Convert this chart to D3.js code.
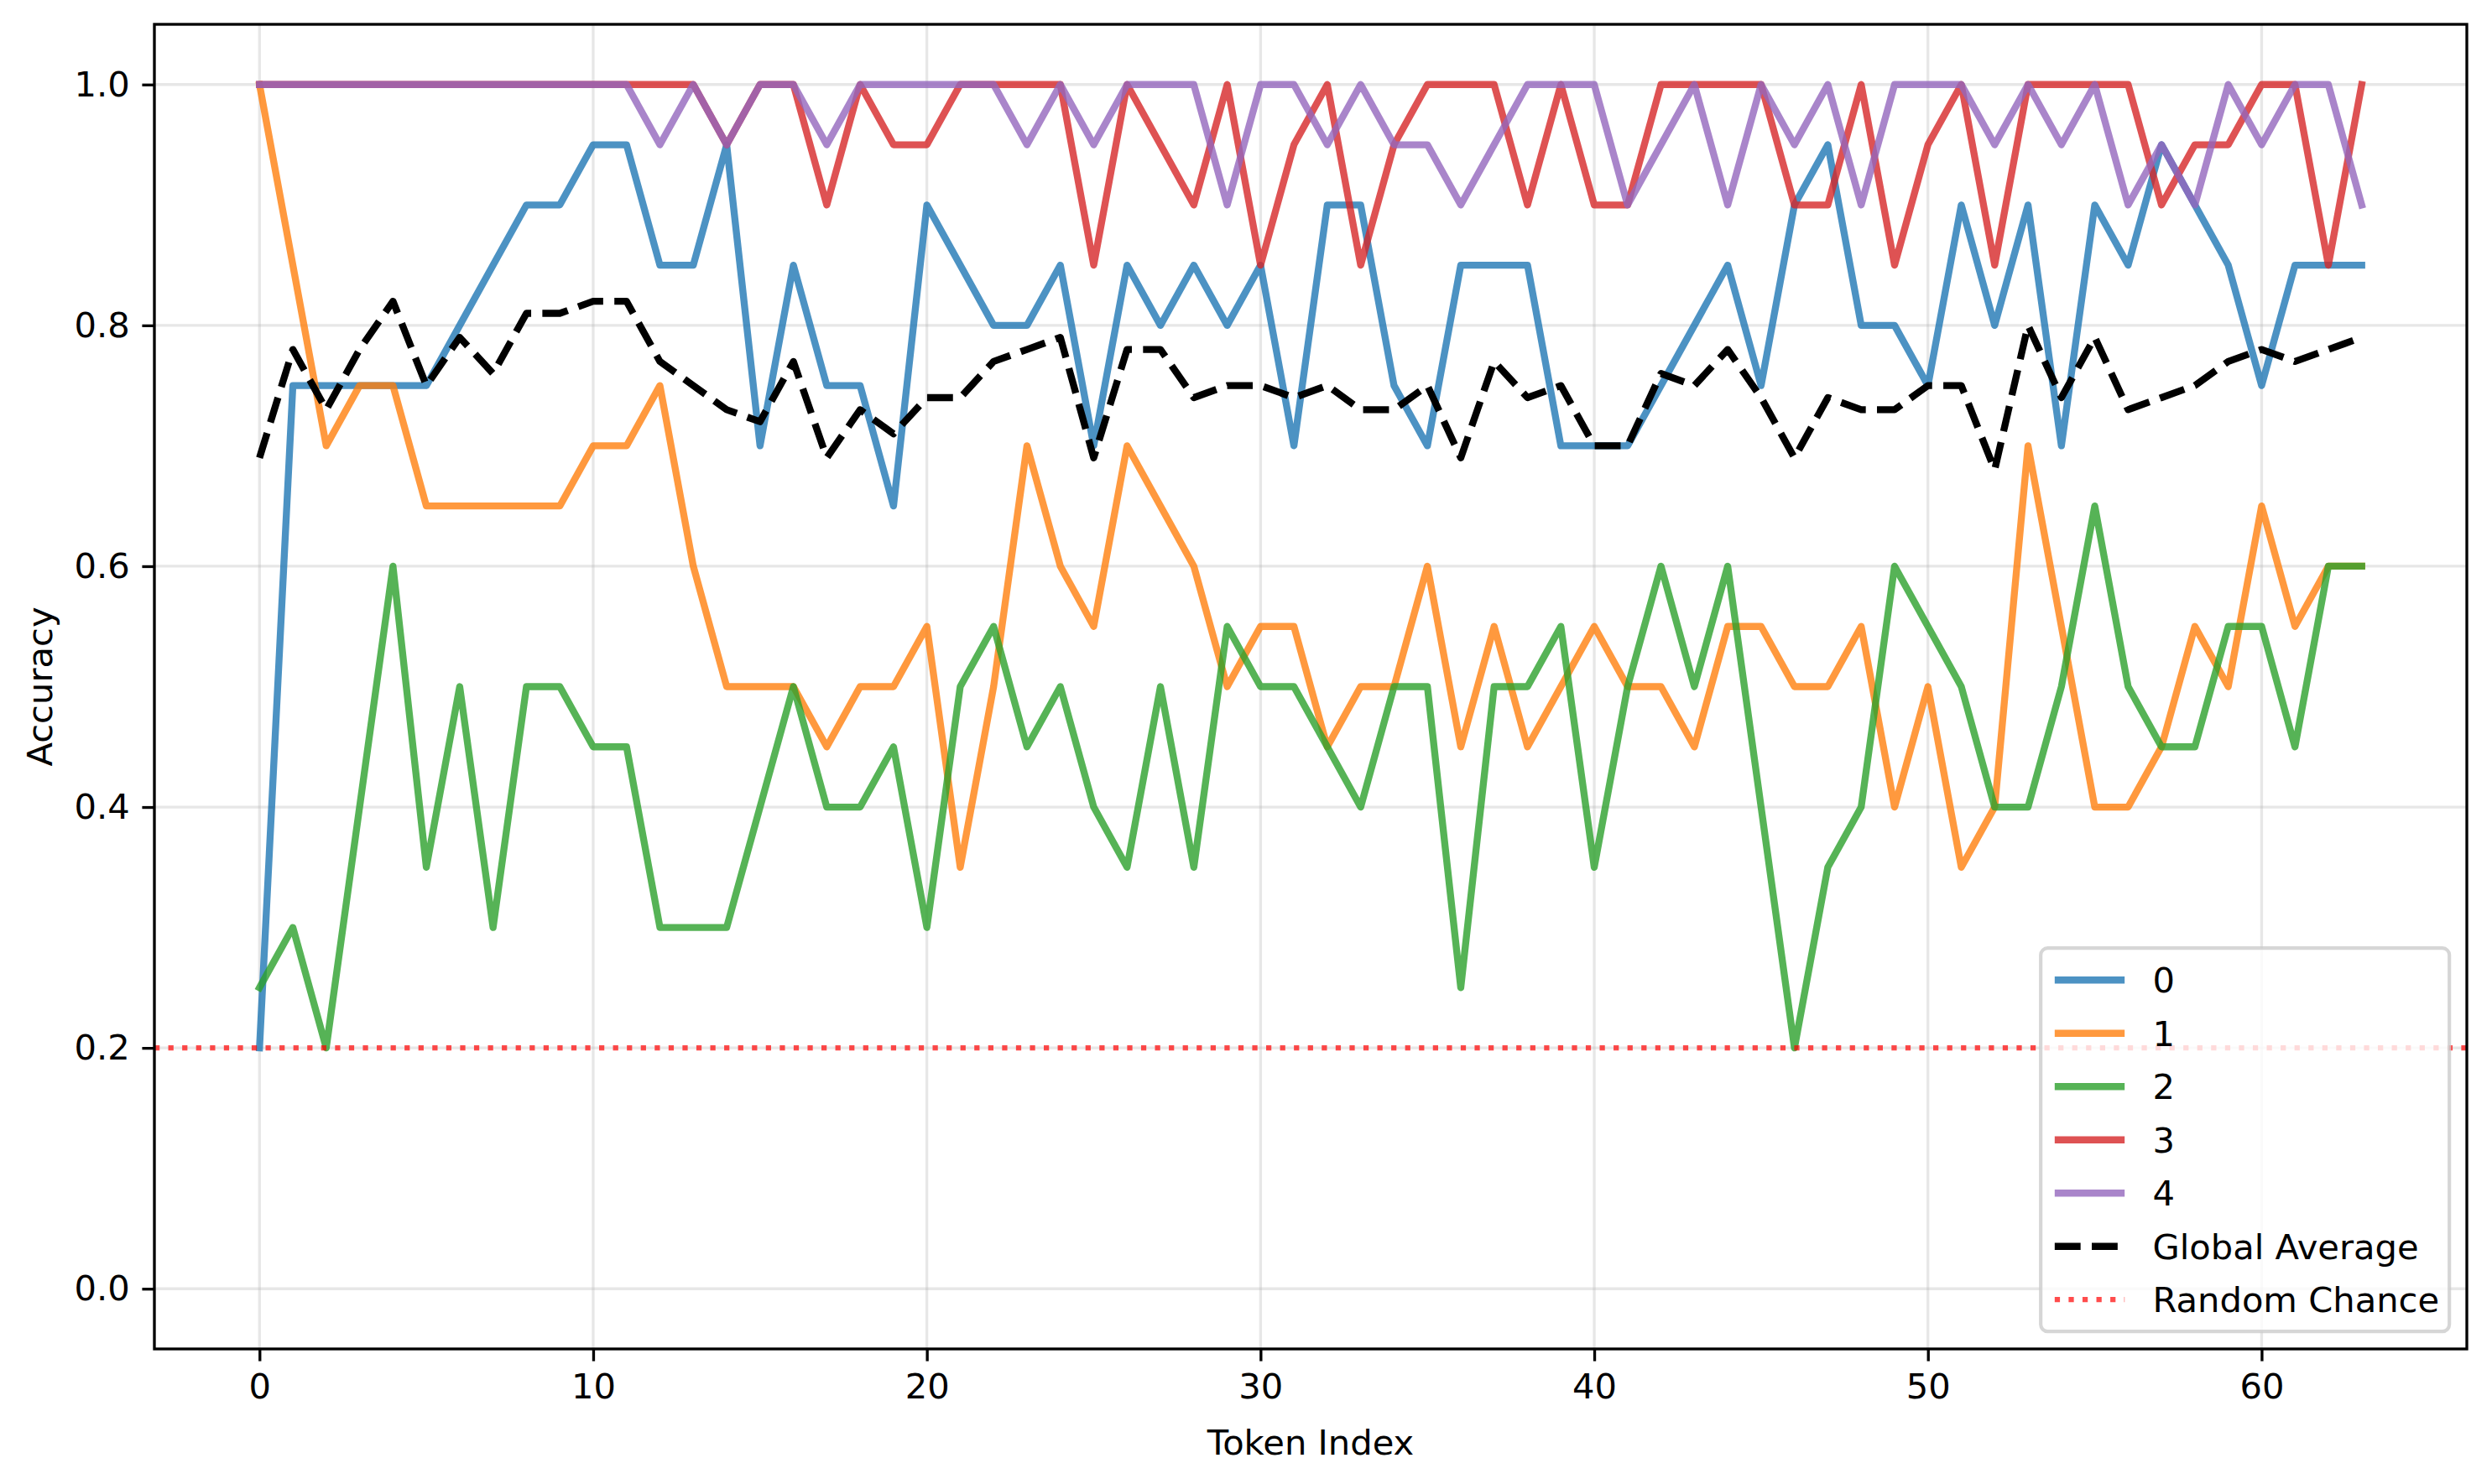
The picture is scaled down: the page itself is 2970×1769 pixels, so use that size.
<!DOCTYPE html>
<html>
<head>
<meta charset="utf-8">
<script src="https://cdn.jsdelivr.net/npm/d3@7"></script>
<style>
  body { margin: 0; background: #fff; }
  svg { display: block; font-family: "DejaVu Sans", sans-serif; }
</style>
</head>
<body>
<svg id="chart" width="2970" height="1769"></svg>
<script>
// per-token accuracy of each class
const tokenIndex = d3.range(64);
const seriesNames = ["0", "1", "2", "3", "4"];
const seriesColors = ["#1f77b4", "#ff7f0e", "#2ca02c", "#d62728", "#9467bd"];

const acc0 = [0.2,0.75,0.75,0.75,0.75,0.75,0.8,0.85,0.9,0.9,
  0.95,0.95,0.85,0.85,0.95,0.7,0.85,0.75,0.75,0.65,
  0.9,0.85,0.8,0.8,0.85,0.7,0.85,0.8,0.85,0.8,
  0.85,0.7,0.9,0.9,0.75,0.7,0.85,0.85,0.85,0.7,
  0.7,0.7,0.75,0.8,0.85,0.75,0.9,0.95,0.8,0.8,
  0.75,0.9,0.8,0.9,0.7,0.9,0.85,0.95,0.9,0.85,
  0.75,0.85,0.85,0.85];
const acc1 = [1.0,0.85,0.7,0.75,0.75,0.65,0.65,0.65,0.65,0.65,
  0.7,0.7,0.75,0.6,0.5,0.5,0.5,0.45,0.5,0.5,
  0.55,0.35,0.5,0.7,0.6,0.55,0.7,0.65,0.6,0.5,
  0.55,0.55,0.45,0.5,0.5,0.6,0.45,0.55,0.45,0.5,
  0.55,0.5,0.5,0.45,0.55,0.55,0.5,0.5,0.55,0.4,
  0.5,0.35,0.4,0.7,0.55,0.4,0.4,0.45,0.55,0.5,
  0.65,0.55,0.6,0.6];
const acc2 = [0.25,0.3,0.2,0.4,0.6,0.35,0.5,0.3,0.5,0.5,
  0.45,0.45,0.3,0.3,0.3,0.4,0.5,0.4,0.4,0.45,
  0.3,0.5,0.55,0.45,0.5,0.4,0.35,0.5,0.35,0.55,
  0.5,0.5,0.45,0.4,0.5,0.5,0.25,0.5,0.5,0.55,
  0.35,0.5,0.6,0.5,0.6,0.4,0.2,0.35,0.4,0.6,
  0.55,0.5,0.4,0.4,0.5,0.65,0.5,0.45,0.45,0.55,
  0.55,0.45,0.6,0.6];
const acc3 = [1,1,1,1,1,1,1,1,1,1,
  1,1,1,1,0.95,1,1,0.9,1,0.95,
  0.95,1,1,1,1,0.85,1,0.95,0.9,1,
  0.85,0.95,1,0.85,0.95,1,1,1,0.9,1,
  0.9,0.9,1,1,1,1,0.9,0.9,1,0.85,
  0.95,1,0.85,1,1,1,1,0.9,0.95,0.95,
  1,1,0.85,1];
const acc4 = [1,1,1,1,1,1,1,1,1,1,
  1,1,0.95,1,0.95,1,1,0.95,1,1,
  1,1,1,0.95,1,0.95,1,1,1,0.9,
  1,1,0.95,1,0.95,0.95,0.9,0.95,1,1,
  1,0.9,0.95,1,0.9,1,0.95,1,0.9,1,
  1,1,0.95,1,0.95,1,0.9,0.95,0.9,1,
  0.95,1,1,0.9];
const globalAvg = [0.69,0.78,0.73,0.78,0.82,0.75,0.79,0.76,0.81,0.81,
  0.82,0.82,0.77,0.75,0.73,0.72,0.77,0.69,0.73,0.71,
  0.74,0.74,0.77,0.78,0.79,0.69,0.78,0.78,0.74,0.75,
  0.75,0.74,0.75,0.73,0.73,0.75,0.69,0.77,0.74,0.75,
  0.70,0.70,0.76,0.75,0.78,0.74,0.69,0.74,0.73,0.73,
  0.75,0.75,0.68,0.80,0.74,0.79,0.73,0.74,0.75,0.77,
  0.78,0.77,0.78,0.79];
const randomChance = 0.2;

const xTicks = [0, 10, 20, 30, 40, 50, 60];
const yTicks = [0, 0.2, 0.4, 0.6, 0.8, 1.0];

const series = [acc0, acc1, acc2, acc3, acc4];

// matplotlib at 300 dpi: 1pt = 4.1667px
const pt = 300 / 72;
const fs = 10 * pt;
const plotL = 184, plotR = 2940, plotT = 29, plotB = 1608;

const svg = d3.select("#chart");
svg.append("rect").attr("width", 2970).attr("height", 1769).attr("fill", "#fff");

const x = d3.scaleLinear().domain([-3.15, 66.15]).range([plotL, plotR]);
const y = d3.scaleLinear().domain([-0.05, 1.05]).range([plotB, plotT]);

svg.append("defs").append("clipPath").attr("id", "plotclip")
  .append("rect").attr("x", plotL).attr("y", plotT)
  .attr("width", plotR - plotL).attr("height", plotB - plotT);

// grid
const grid = svg.append("g").attr("stroke", "#b0b0b0").attr("stroke-opacity", 0.3)
  .attr("stroke-width", 0.8 * pt);
grid.selectAll(".gx").data(xTicks).join("line").attr("class", "gx")
  .attr("x1", d => x(d)).attr("x2", d => x(d)).attr("y1", plotT).attr("y2", plotB);
grid.selectAll(".gy").data(yTicks).join("line").attr("class", "gy")
  .attr("y1", d => y(d)).attr("y2", d => y(d)).attr("x1", plotL).attr("x2", plotR);

const line = d3.line().x((d, i) => x(tokenIndex[i])).y(d => y(d));
const plot = svg.append("g").attr("clip-path", "url(#plotclip)");

series.forEach((vals, k) => {
  plot.append("path").datum(vals)
    .attr("d", line)
    .attr("fill", "none")
    .attr("stroke", seriesColors[k])
    .attr("stroke-opacity", 0.8)
    .attr("stroke-width", 2 * pt)
    .attr("stroke-linejoin", "round")
    .attr("stroke-linecap", "square");
});

const avgDash = `${3.7 * 2 * pt},${1.6 * 2 * pt}`;
const dotDash = `${1.5 * pt},${1.65 * 1.5 * pt}`;

plot.append("path").datum(globalAvg)
  .attr("d", line)
  .attr("fill", "none")
  .attr("stroke", "#000")
  .attr("stroke-width", 2 * pt)
  .attr("stroke-dasharray", avgDash)
  .attr("stroke-linejoin", "round");

plot.append("line")
  .attr("x1", plotL).attr("x2", plotR)
  .attr("y1", y(randomChance)).attr("y2", y(randomChance))
  .attr("stroke", "red").attr("stroke-opacity", 0.7)
  .attr("stroke-width", 1.5 * pt)
  .attr("stroke-dasharray", dotDash);

// axes
const tickLen = 3.5 * pt, tickPad = 3.5 * pt;
const xAxis = svg.append("g").attr("transform", `translate(0,${plotB})`)
  .call(d3.axisBottom(x).tickValues(xTicks).tickFormat(d3.format("d"))
    .tickSize(tickLen).tickPadding(tickPad));
const yAxis = svg.append("g").attr("transform", `translate(${plotL},0)`)
  .call(d3.axisLeft(y).tickValues(yTicks).tickFormat(d3.format(".1f"))
    .tickSize(tickLen).tickPadding(tickPad));
[xAxis, yAxis].forEach(a => {
  a.select(".domain").remove();
  a.selectAll(".tick line").attr("stroke", "#000").attr("stroke-width", 0.8 * pt);
  a.selectAll(".tick text").attr("fill", "#000")
    .style("font-size", fs + "px").style("font-family", "DejaVu Sans");
});

// spines
svg.append("rect").attr("x", plotL).attr("y", plotT)
  .attr("width", plotR - plotL).attr("height", plotB - plotT)
  .attr("fill", "none").attr("stroke", "#000").attr("stroke-width", 0.8 * pt);

svg.append("text").attr("x", (plotL + plotR) / 2).attr("y", 1734)
  .attr("text-anchor", "middle").style("font-size", fs + "px").text("Token Index");
svg.append("text")
  .attr("transform", `translate(62,${(plotT + plotB) / 2}) rotate(-90)`)
  .attr("text-anchor", "middle").style("font-size", fs + "px").text("Accuracy");

// legend
const legendItems = seriesNames.map((n, k) => ({ label: n, color: seriesColors[k], opacity: 0.8, dash: null, w: 2 }))
  .concat([
    { label: "Global Average", color: "#000", opacity: 1, dash: avgDash, w: 2 },
    { label: "Random Chance", color: "red", opacity: 0.7, dash: dotDash, w: 1.5 }
  ]);
const rowH = 63.5;
const legW = 487, legH = 457;
const legX = plotR - 0.5 * fs - legW, legY = plotB - 0.5 * fs - legH;
const leg = svg.append("g").attr("transform", `translate(${legX},${legY})`);
leg.append("rect").attr("width", legW).attr("height", legH)
  .attr("rx", 0.2 * fs).attr("ry", 0.2 * fs)
  .attr("fill", "#fff").attr("fill-opacity", 0.8)
  .attr("stroke", "#cccccc").attr("stroke-opacity", 0.8).attr("stroke-width", 1 * pt);
legendItems.forEach((it, i) => {
  const cy = 0.4 * fs + 21.4 + i * rowH;
  const g = leg.append("g").attr("transform", `translate(${0.4 * fs},${cy})`);
  g.append("line").attr("x1", 0).attr("x2", 2 * fs).attr("y1", 0).attr("y2", 0)
    .attr("stroke", it.color).attr("stroke-opacity", it.opacity)
    .attr("stroke-width", it.w * pt)
    .attr("stroke-dasharray", it.dash);
  g.append("text").attr("x", 2.8 * fs).attr("y", 0).attr("dy", "0.36em")
    .style("font-size", fs + "px").text(it.label);
});
</script>
</body>
</html>
